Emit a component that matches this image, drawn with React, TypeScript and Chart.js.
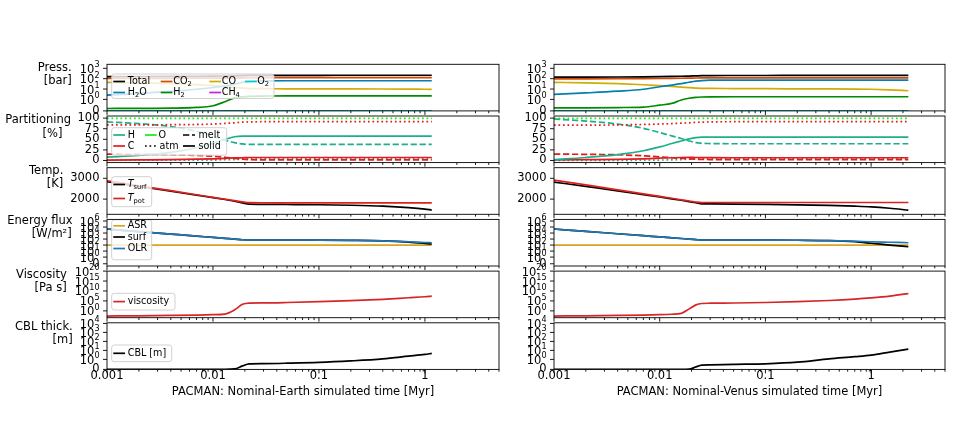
import React, { useEffect, useRef } from "react";
import { Chart, registerables } from "chart.js";

Chart.register(...registerables);

const FONT = "'DejaVu Sans', sans-serif";
const W = 953;
const H = 424;

// ---------------- time axis [Myr] ----------------
const timeEarth = [0.001, 0.002, 0.004, 0.007, 0.01, 0.013, 0.016, 0.019, 0.022, 0.03, 0.05, 0.1, 0.2, 0.4, 0.7, 1.0, 1.16];
const timeVenus = [0.001, 0.002, 0.004, 0.007, 0.01, 0.013, 0.016, 0.019, 0.022, 0.025, 0.03, 0.05, 0.1, 0.2, 0.4, 0.7, 1.0, 1.5, 2.25];
const timeTicks = [0.001, 0.002, 0.003, 0.004, 0.005, 0.006, 0.007, 0.008, 0.009, 0.01, 0.02, 0.03, 0.04, 0.05, 0.06, 0.07, 0.08, 0.09, 0.1, 0.2, 0.3, 0.4, 0.5, 0.6, 0.7, 0.8, 0.9, 1, 2, 3, 4, 5];
const timeMajorTicks = [0.001, 0.01, 0.1, 1];
const timeMajorLabels = ["0.001", "0.01", "0.1", "1"];
const timeMin = 0.001;
const timeMax = 5;
const titleEarth = "PACMAN: Nominal-Earth simulated time [Myr]";
const titleVenus = "PACMAN: Nominal-Venus simulated time [Myr]";

// ---------------- Earth: partial pressures [bar] ----------------
const earthPTotal = [160, 162, 165, 170, 175, 182, 190, 198, 205, 210, 212, 213, 214, 214, 215, 215, 215];
const earthPCO2 = [105, 106, 108, 110, 112, 115, 118, 121, 123, 124, 124, 125, 125, 125, 125, 125, 125];
const earthPH2O = [2.6, 3.8, 6, 9.5, 14, 20, 30, 45, 56, 62, 63, 63, 63, 63, 63, 63, 63];
const earthPCO = [44, 40, 33, 27, 22, 18, 14.5, 12, 11, 10.8, 10.6, 10.5, 10.3, 10.1, 9.8, 9.5, 9.4];
const earthPH2 = [0.21, 0.22, 0.24, 0.3, 0.45, 0.8, 1.4, 1.8, 2.0, 2.1, 2.2, 2.2, 2.2, 2.2, 2.2, 2.2, 2.2];
const earthPO2 = [0, 0, 0, 0, 0, 0, 0, 0, 0, 0, 0, 0, 0, 0, 0, 0, 0];
const earthPCH4 = [0, 0, 0, 0, 0, 0, 0, 0, 0, 0, 0, 0, 0, 0, 0, 0, 0];

// ---------------- Venus: partial pressures [bar] ----------------
const venusPTotal = [140, 142, 146, 152, 158, 165, 172, 180, 188, 195, 200, 203, 204, 205, 205, 205, 205, 205, 205];
const venusPCO2 = [95, 96, 98, 101, 104, 107, 110, 113, 116, 118, 119, 120, 120, 120, 120, 120, 120, 120, 120];
const venusPH2O = [3.0, 4.2, 6.2, 9.5, 16.6, 24, 33, 45, 57, 66, 72, 74, 74, 74, 74, 74, 74, 74, 74];
const venusPCO = [44, 40, 33, 26, 21, 18, 15.5, 13.5, 12.3, 11.8, 11.5, 11.2, 10.8, 10.5, 10.3, 10.0, 9.5, 8.3, 6.8];
const venusPH2 = [0.26, 0.27, 0.29, 0.33, 0.5, 0.65, 0.95, 1.3, 1.55, 1.7, 1.77, 1.8, 1.8, 1.8, 1.8, 1.8, 1.8, 1.8, 1.8];
const venusPO2 = [0, 0, 0, 0, 0, 0, 0, 0, 0, 0, 0, 0, 0, 0, 0, 0, 0, 0, 0];
const venusPCH4 = [0, 0, 0, 0, 0, 0, 0, 0, 0, 0, 0, 0, 0, 0, 0, 0, 0, 0, 0];

// ---------------- Earth: element partitioning [%] ----------------
const earthHMelt = [91, 87, 80, 69, 58, 48, 42, 39, 38, 38, 38, 38, 38, 38, 38, 38, 38];
const earthHSolid = [8, 12, 19, 30, 41, 50, 56, 57.5, 57.5, 57.5, 57.5, 57.5, 57.5, 57.5, 57.5, 57.5, 57.5];
const earthHAtm = [1, 1, 1, 1, 1, 2, 2, 3.5, 4.5, 4.5, 4.5, 4.5, 4.5, 4.5, 4.5, 4.5, 4.5];
const earthCAtm = [84, 84, 84.5, 85, 86, 87.5, 89, 90.5, 91, 91.5, 91.5, 91.5, 91.5, 91.5, 91.5, 91.5, 91.5];
const earthCMelt = [15, 14.5, 13.5, 12, 10, 7.5, 5, 3, 2, 1.5, 1.5, 1.5, 1.5, 1.5, 1.5, 1.5, 1.5];
const earthCSolid = [1, 1.5, 2, 3, 4, 5, 6, 6.5, 7, 7, 7, 7, 7, 7, 7, 7, 7];
const earthOAtm = [99.5, 99.5, 99.5, 99.5, 99.5, 99.5, 99.5, 99.5, 99.5, 99.5, 99.5, 99.5, 99.5, 99.5, 99.5, 99.5, 99.5];

// ---------------- Venus: element partitioning [%] ----------------
const venusHMelt = [98, 93, 86, 76, 66, 58, 52, 46, 42, 40.5, 40, 39.5, 39.5, 39.5, 39.5, 39.5, 39.5, 39.5, 39.5];
const venusHSolid = [2, 7, 14, 23, 32, 40, 46, 51, 54, 55, 55, 55, 55, 55, 55, 55, 55, 55, 55];
const venusHAtm = [0.3, 0.3, 0.4, 0.6, 1, 1.5, 2, 3, 4, 4.5, 5, 5.5, 5.5, 5.5, 5.5, 5.5, 5.5, 5.5, 5.5];
const venusCAtm = [83.5, 83.5, 84, 85, 86, 87, 88, 89, 90, 90.5, 91, 91.5, 91.5, 91.5, 91.5, 91.5, 91.5, 91.5, 91.5];
const venusCMelt = [15, 14.5, 13.5, 11, 8.6, 6.5, 5, 3.8, 3, 2.5, 2.2, 2, 2, 2, 2, 2, 2, 2, 2];
const venusCSolid = [1.5, 2, 2.5, 4, 5.4, 6.5, 7, 7.2, 7, 7, 6.8, 6.5, 6.5, 6.5, 6.5, 6.5, 6.5, 6.5, 6.5];
const venusOAtm = [99.5, 99.5, 99.5, 99.5, 99.5, 99.5, 99.5, 99.5, 99.5, 99.5, 99.5, 99.5, 99.5, 99.5, 99.5, 99.5, 99.5, 99.5, 99.5];

// ---------------- temperatures [K] ----------------
const earthTPot = [2884, 2644, 2405, 2211, 2087, 1997, 1926, 1866, 1830, 1825, 1823, 1822, 1821, 1821, 1821, 1821, 1821];
const earthTSurf = [2840, 2610, 2380, 2190, 2070, 1980, 1900, 1820, 1755, 1748, 1742, 1730, 1705, 1660, 1590, 1520, 1475];
const venusTPot = [2918, 2681, 2444, 2252, 2130, 2040, 1969, 1910, 1860, 1836, 1838, 1838, 1838, 1838, 1838, 1838, 1838, 1838, 1838];
const venusTSurf = [2821, 2610, 2400, 2220, 2105, 2015, 1945, 1880, 1825, 1775, 1768, 1760, 1745, 1725, 1695, 1660, 1628, 1560, 1468];

// ---------------- energy fluxes [W/m2] ----------------
const earthASR = [100, 100, 100, 100, 100, 100, 100, 100, 100, 100, 100, 100, 100, 100, 100, 100, 100];
const earthOLR = [46800, 17800, 6760, 3090, 1860, 1290, 977, 759, 692, 692, 692, 676, 603, 501, 355, 270, 245];
const earthFSurf = [46800, 17800, 6760, 3090, 1860, 1290, 977, 759, 692, 692, 692, 676, 600, 480, 310, 190, 150];
const venusASR = [100, 100, 100, 100, 100, 100, 100, 100, 100, 100, 100, 100, 100, 100, 100, 100, 100, 100, 100];
const venusOLR = [46800, 19100, 7590, 3630, 2290, 1620, 1230, 977, 813, 692, 692, 692, 676, 631, 550, 437, 355, 295, 245];
const venusFSurf = [46800, 19100, 7590, 3630, 2290, 1620, 1230, 977, 813, 692, 692, 692, 676, 631, 540, 355, 200, 100, 52];

// ---------------- viscosity [Pa s] ----------------
const earthVisc = [0.0025, 0.0032, 0.005, 0.008, 0.0126, 0.025, 3.2, 2000, 7900, 10000, 16000, 40000, 126000, 630000, 4000000, 12600000, 25000000];
const venusVisc = [0.0025, 0.0032, 0.005, 0.008, 0.0126, 0.02, 0.05, 10, 1000, 5000, 7000, 8900, 16000, 40000, 160000, 800000, 3200000, 25000000, 500000000];

// ---------------- conductive boundary layer [m] ----------------
const earthCBL = [0, 0, 0, 0, 0, 0, 0.05, 0.35, 0.55, 0.58, 0.62, 0.7, 0.85, 1.15, 2.3, 3.6, 4.7];
const venusCBL = [0, 0, 0, 0, 0, 0, 0, 0.02, 0.25, 0.42, 0.45, 0.5, 0.56, 0.72, 1.15, 2.0, 3.0, 6.5, 14];

// ---------------- y ticks ----------------
const pressTicks = [0, 1, 10, 100, 1000];
const pressTickLabels = ["0", "10⁰", "10¹", "10²", "10³"];
const partTicks = [0, 25, 50, 75, 100];
const partTickLabels = ["0", "25", "50", "75", "100"];
const tempTicks = [2000, 3000];
const tempTickLabels = ["2000", "3000"];
const fluxTicks = [0, 1, 10, 100, 1000, 10000, 100000, 1000000];
const fluxTickLabels = ["0", "10⁰", "10¹", "10²", "10³", "10⁴", "10⁵", "10⁶"];
const viscTicks = [1, 1e5, 1e10, 1e15, 1e20];
const viscTickLabels = ["10⁰", "10⁵", "10¹⁰", "10¹⁵", "10²⁰"];
const cblTicks = [0, 1, 10, 100, 1000, 10000];
const cblTickLabels = ["0", "10⁰", "10¹", "10²", "10³", "10⁴"];

// ---------------- colours ----------------
const C_TOTAL = "#000000";
const C_CO2 = "#D24901";
const C_CO = "#D1AC02";
const C_O2 = "#00CCCC";
const C_H2O = "#027FB1";
const C_H2 = "#008C01";
const C_CH4 = "#C720DD";
const C_H = "#1fae8a";
const C_O = "#11ee11";
const C_C = "#e41a1c";
const C_TPOT = "#e0201e";
const C_ASR = "#d8a521";
const C_OLR = "#1f77b4";
const C_VISC = "#d62728";

const DASHED = [6.3, 2.7];
const DOTTED = [1.7, 2.8];

// symmetric-log transform (linthresh 1, linscale 1)
const symlog = (v: number) => {
  const a = Math.abs(v);
  const c = 1 / 0.9;
  return Math.sign(v) * (a <= 1 ? a * c : c + Math.log10(a));
};
const log10t = (v: number) => Math.log10(v);
const ident = (v: number) => v;

type Seg = { t: string; sub?: boolean; it?: boolean };
type Series = { xs: number[]; ys: number[]; color: string; dash?: number[] };
type LegendItem = { segs: Seg[]; color: string; dash?: number[]; hx: number; hw: number; tx: number; y: number };
type Legend = { x: number; y: number; w: number; h: number; items: LegendItem[] };
type YLabel = { text: string; rx: number; cy: number };
type Panel = {
  l: number; t: number; r: number; b: number;
  tf: (v: number) => number;
  yMin: number; yMax: number;
  yTicks: number[]; yLabels: string[];
  series: Series[];
  legend?: Legend;
  ylabel?: YLabel[];
  xTitle?: string;
};

const colL = [107, 554];
const colR = [499, 945];
const rowT = [64.3, 116.0, 167.7, 219.4, 271.1, 322.8];
const rowH = 46.6;

const seg = (t: string): Seg[] => [{ t }];

function buildPanels(col: number): Panel[] {
  const E = col === 0;
  const xs = E ? timeEarth : timeVenus;
  const L = colL[col], R = colR[col];
  const rect = (i: number) => ({ l: L, r: R, t: rowT[i], b: rowT[i] + rowH });
  const out: Panel[] = [];

  out.push({
    ...rect(0), tf: symlog, yMin: 0, yMax: 4.5, yTicks: pressTicks, yLabels: pressTickLabels,
    series: [
      { xs, ys: E ? earthPTotal : venusPTotal, color: C_TOTAL },
      { xs, ys: E ? earthPCO2 : venusPCO2, color: C_CO2 },
      { xs, ys: E ? earthPH2O : venusPH2O, color: C_H2O },
      { xs, ys: E ? earthPCO : venusPCO, color: C_CO },
      { xs, ys: E ? earthPH2 : venusPH2, color: C_H2 },
      { xs, ys: E ? earthPO2 : venusPO2, color: C_O2 },
      { xs, ys: E ? earthPCH4 : venusPCH4, color: C_CH4 },
    ],
    legend: E ? {
      x: 111.7, y: 74, w: 162.3, h: 24.5,
      items: [
        { segs: seg("Total"), color: C_TOTAL, hx: 113.3, hw: 11.7, tx: 127.7, y: 81.5 },
        { segs: [{ t: "CO" }, { t: "2", sub: true }], color: C_CO2, hx: 160.7, hw: 11.7, tx: 173.3, y: 81.5 },
        { segs: seg("CO"), color: C_CO, hx: 209.3, hw: 11.7, tx: 221.7, y: 81.5 },
        { segs: [{ t: "O" }, { t: "2", sub: true }], color: C_O2, hx: 245, hw: 11.7, tx: 257.3, y: 81.5 },
        { segs: [{ t: "H" }, { t: "2", sub: true }, { t: "O" }], color: C_H2O, hx: 113.3, hw: 11.7, tx: 127.7, y: 92.5 },
        { segs: [{ t: "H" }, { t: "2", sub: true }], color: C_H2, hx: 160.7, hw: 11.7, tx: 173.3, y: 92.5 },
        { segs: [{ t: "CH" }, { t: "4", sub: true }], color: C_CH4, hx: 209.3, hw: 11.7, tx: 221.7, y: 92.5 },
      ],
    } : undefined,
    ylabel: E ? [{ text: "Press.", rx: 71.7, cy: 68.5 }, { text: "[bar]", rx: 71.7, cy: 81 }] : undefined,
  });

  out.push({
    ...rect(1), tf: ident, yMin: -5, yMax: 105, yTicks: partTicks, yLabels: partTickLabels,
    series: [
      { xs, ys: E ? earthOAtm : venusOAtm, color: C_O, dash: DOTTED },
      { xs, ys: E ? earthCAtm : venusCAtm, color: C_C, dash: DOTTED },
      { xs, ys: E ? earthHMelt : venusHMelt, color: C_H, dash: DASHED },
      { xs, ys: E ? earthHSolid : venusHSolid, color: C_H },
      { xs, ys: E ? earthCMelt : venusCMelt, color: C_C, dash: DASHED },
      { xs, ys: E ? earthCSolid : venusCSolid, color: C_C },
      { xs, ys: E ? earthHAtm : venusHAtm, color: C_H, dash: DOTTED },
    ],
    legend: E ? {
      x: 111.7, y: 127.7, w: 115, h: 27.5,
      items: [
        { segs: seg("H"), color: C_H, hx: 113.3, hw: 11.7, tx: 127.7, y: 135 },
        { segs: seg("C"), color: C_C, hx: 113.3, hw: 11.7, tx: 127.7, y: 146 },
        { segs: seg("O"), color: C_O, hx: 145, hw: 11.7, tx: 158.5, y: 135 },
        { segs: seg("atm"), color: "#000", dash: DOTTED, hx: 145, hw: 11.7, tx: 159.5, y: 146 },
        { segs: seg("melt"), color: "#000", dash: DASHED, hx: 183, hw: 12, tx: 198.5, y: 135 },
        { segs: seg("solid"), color: "#000", hx: 183, hw: 12, tx: 198.5, y: 146 },
      ],
    } : undefined,
    ylabel: E ? [{ text: "Partitioning", rx: 71, cy: 120 }, { text: "[%]", rx: 62.5, cy: 134 }] : undefined,
  });

  out.push({
    ...rect(2), tf: ident, yMin: 1270, yMax: 3510, yTicks: tempTicks, yLabels: tempTickLabels,
    series: [
      { xs, ys: E ? earthTPot : venusTPot, color: C_TPOT },
      { xs, ys: E ? earthTSurf : venusTSurf, color: "#000" },
    ],
    legend: E ? {
      x: 111.7, y: 176.7, w: 40, h: 30,
      items: [
        { segs: [{ t: "T", it: true }, { t: "surf", sub: true }], color: "#000", hx: 113.3, hw: 11.7, tx: 127.7, y: 184.5 },
        { segs: [{ t: "T", it: true }, { t: "pot", sub: true }], color: C_TPOT, hx: 113.3, hw: 11.7, tx: 127.7, y: 198.5 },
      ],
    } : undefined,
    ylabel: E ? [{ text: "Temp.", rx: 63.3, cy: 171.5 }, { text: "[K]", rx: 63.3, cy: 184 }] : undefined,
  });

  out.push({
    ...rect(3), tf: symlog, yMin: -0.37, yMax: 7.38, yTicks: fluxTicks, yLabels: fluxTickLabels,
    series: [
      { xs, ys: E ? earthOLR : venusOLR, color: C_OLR },
      { xs, ys: E ? earthFSurf : venusFSurf, color: "#000" },
      { xs, ys: E ? earthASR : venusASR, color: C_ASR },
    ],
    legend: E ? {
      x: 111.7, y: 219.8, w: 40, h: 40,
      items: [
        { segs: seg("ASR"), color: C_ASR, hx: 113.3, hw: 11.7, tx: 127.7, y: 225.8 },
        { segs: seg("surf"), color: "#000", hx: 113.3, hw: 11.7, tx: 127.7, y: 237 },
        { segs: seg("OLR"), color: C_OLR, hx: 113.3, hw: 11.7, tx: 127.7, y: 248.5 },
      ],
    } : undefined,
    ylabel: E ? [{ text: "Energy flux", rx: 72.5, cy: 221.5 }, { text: "[W/m²]", rx: 71.7, cy: 234 }] : undefined,
  });

  out.push({
    ...rect(4), tf: log10t, yMin: -3.44, yMax: 20, yTicks: viscTicks, yLabels: viscTickLabels,
    series: [{ xs, ys: E ? earthVisc : venusVisc, color: C_VISC }],
    legend: E ? {
      x: 111.7, y: 293.3, w: 63.3, h: 16.7,
      items: [{ segs: seg("viscosity"), color: C_VISC, hx: 113.3, hw: 11.7, tx: 127.7, y: 301.6 }],
    } : undefined,
    ylabel: E ? [{ text: "Viscosity", rx: 66.7, cy: 275.5 }, { text: "[Pa s]", rx: 66.7, cy: 288 }] : undefined,
  });

  out.push({
    ...rect(5), tf: symlog, yMin: 0, yMax: 5.18, yTicks: cblTicks, yLabels: cblTickLabels,
    series: [{ xs, ys: E ? earthCBL : venusCBL, color: "#000" }],
    legend: E ? {
      x: 111.7, y: 345, w: 60, h: 16.7,
      items: [{ segs: seg("CBL [m]"), color: "#000", hx: 113.3, hw: 11.7, tx: 127.7, y: 353.3 }],
    } : undefined,
    ylabel: E ? [{ text: "CBL thick.", rx: 72.7, cy: 327.5 }, { text: "[m]", rx: 72.7, cy: 340 }] : undefined,
    xTitle: E ? titleEarth : titleVenus,
  });
  return out;
}

const allPanels: Panel[] = [...buildPanels(0), ...buildPanels(1)];

const SUPCHARS = "⁰¹²³⁴⁵⁶⁷⁸⁹";

function drawRich(ctx: CanvasRenderingContext2D, x: number, y: number, segs: Seg[], size: number) {
  let cx = x;
  ctx.textAlign = "left";
  ctx.textBaseline = "middle";
  for (const s of segs) {
    const fs = s.sub ? size * 0.7 : size;
    ctx.font = `${s.it ? "italic " : ""}${fs}px ${FONT}`;
    ctx.fillText(s.t, cx, s.sub ? y + size * 0.28 : y);
    cx += ctx.measureText(s.t).width;
  }
}

// draws a tick label right-aligned at rx; "10ⁿ" labels get a real raised exponent
function drawTickLabel(ctx: CanvasRenderingContext2D, label: string, rx: number, cy: number) {
  const size = 11.5;
  ctx.textBaseline = "middle";
  ctx.textAlign = "left";
  let base = label;
  let exp = "";
  if (label.startsWith("10") && label.length > 2 && SUPCHARS.indexOf(label[2]) >= 0) {
    base = "10";
    exp = label
      .slice(2)
      .split("")
      .map((ch) => String(SUPCHARS.indexOf(ch)))
      .join("");
  }
  ctx.font = `${size}px ${FONT}`;
  const bw = ctx.measureText(base).width;
  const es = size * 0.7;
  ctx.font = `${es}px ${FONT}`;
  const ew = exp ? ctx.measureText(exp).width : 0;
  const x0 = rx - bw - ew;
  const by = exp ? cy + 1.5 : cy;
  ctx.font = `${size}px ${FONT}`;
  ctx.fillText(base, x0, by);
  if (exp) {
    ctx.font = `${es}px ${FONT}`;
    ctx.fillText(exp, x0 + bw, by - 4.6);
  }
}

function roundRectPath(ctx: CanvasRenderingContext2D, x: number, y: number, w: number, h: number, r: number) {
  ctx.beginPath();
  ctx.moveTo(x + r, y);
  ctx.lineTo(x + w - r, y);
  ctx.arcTo(x + w, y, x + w, y + r, r);
  ctx.lineTo(x + w, y + h - r);
  ctx.arcTo(x + w, y + h, x + w - r, y + h, r);
  ctx.lineTo(x + r, y + h);
  ctx.arcTo(x, y + h, x, y + h - r, r);
  ctx.lineTo(x, y + r);
  ctx.arcTo(x, y, x + r, y, r);
  ctx.closePath();
}

function drawLegend(ctx: CanvasRenderingContext2D, lg: Legend) {
  ctx.save();
  roundRectPath(ctx, lg.x, lg.y, lg.w, lg.h, 2.5);
  ctx.fillStyle = "rgba(255,255,255,0.8)";
  ctx.fill();
  ctx.strokeStyle = "#cccccc";
  ctx.lineWidth = 0.9;
  ctx.stroke();
  for (const it of lg.items) {
    ctx.beginPath();
    ctx.setLineDash(it.dash || []);
    ctx.strokeStyle = it.color;
    ctx.lineWidth = 1.7;
    ctx.moveTo(it.hx, it.y);
    ctx.lineTo(it.hx + it.hw, it.y);
    ctx.stroke();
    ctx.setLineDash([]);
    ctx.fillStyle = "#000";
    drawRich(ctx, it.tx, it.y, it.segs, 9.6);
  }
  ctx.restore();
}

function makePlugin(p: Panel) {
  return {
    id: "decor",
    afterDatasetsDraw(chart: any) {
      if (p.legend) drawLegend(chart.ctx, p.legend);
    },
    afterDraw(chart: any) {
      const ctx: CanvasRenderingContext2D = chart.ctx;
      const ca = chart.chartArea;
      const xs = chart.scales.x;
      const ys = chart.scales.y;
      ctx.save();
      ctx.setLineDash([]);
      ctx.strokeStyle = "#000";
      ctx.lineWidth = 0.9;
      ctx.strokeRect(ca.left, ca.top, ca.right - ca.left, ca.bottom - ca.top);
      ctx.beginPath();
      for (const v of timeTicks) {
        const px = xs.getPixelForValue(v);
        if (px < ca.left - 0.5 || px > ca.right + 0.5) continue;
        const major = timeMajorTicks.indexOf(v) >= 0;
        ctx.moveTo(px, ca.bottom);
        ctx.lineTo(px, ca.bottom + (major ? 4 : 2.3));
      }
      for (const v of p.yTicks) {
        const py = ys.getPixelForValue(p.tf(v));
        ctx.moveTo(ca.left - 4, py);
        ctx.lineTo(ca.left, py);
      }
      ctx.stroke();
      ctx.fillStyle = "#000";
      p.yTicks.forEach((v, i) => {
        const py = ys.getPixelForValue(p.tf(v));
        drawTickLabel(ctx, p.yLabels[i], ca.left - 7.5, py);
      });
      if (p.ylabel) {
        ctx.font = `11.5px ${FONT}`;
        ctx.textAlign = "right";
        ctx.textBaseline = "middle";
        for (const yl of p.ylabel) ctx.fillText(yl.text, yl.rx, yl.cy);
      }
      ctx.restore();
    },
  };
}

function makeConfig(p: Panel): any {
  const YW = 100;
  const XH = p.xTitle ? 30 : 0;
  const datasets = p.series.map((s) => ({
    data: s.xs.map((x, i) => ({ x, y: p.tf(s.ys[i]) })),
    borderColor: s.color,
    backgroundColor: s.color,
    borderWidth: 1.7,
    borderDash: s.dash || [],
    pointRadius: 0,
    pointHoverRadius: 0,
    fill: false,
    cubicInterpolationMode: "monotone",
  }));
  const tickFont = { family: FONT, size: 11.5 };
  return {
    type: "line",
    data: { datasets },
    options: {
      animation: false,
      responsive: false,
      maintainAspectRatio: false,
      devicePixelRatio: 1,
      events: [],
      layout: { padding: { left: p.l - YW, right: W - p.r, top: p.t, bottom: H - p.b - XH } },
      plugins: { legend: { display: false }, tooltip: { enabled: false }, title: { display: false } },
      scales: {
        x: {
          type: "logarithmic",
          position: "bottom",
          min: timeMin,
          max: timeMax,
          bounds: "data",
          afterBuildTicks: (s: any) => { s.ticks = timeTicks.map((v) => ({ value: v, major: timeMajorTicks.indexOf(v) >= 0 })); },
          afterFit: (s: any) => { s.height = XH; },
          grid: { display: false, drawTicks: false },
          border: { display: false },
          ticks: {
            display: !!p.xTitle,
            autoSkip: false,
            maxRotation: 0,
            minRotation: 0,
            padding: 0,
            color: "#000",
            font: tickFont,
            callback: (_v: any, i: number) => {
              const k = timeMajorTicks.indexOf(timeTicks[i]);
              return k >= 0 ? timeMajorLabels[k] : "";
            },
          },
          title: {
            display: !!p.xTitle,
            text: p.xTitle || "",
            color: "#000",
            font: tickFont,
            padding: { top: 0, bottom: 0 },
          },
        },
        y: {
          type: "linear",
          position: "left",
          min: p.yMin,
          max: p.yMax,
          bounds: "data",
          afterBuildTicks: (s: any) => { s.ticks = p.yTicks.map((v) => ({ value: p.tf(v) })); },
          afterFit: (s: any) => { s.width = YW; },
          grid: { display: false, drawTicks: false },
          border: { display: false },
          ticks: { display: false },
        },
      },
    },
    plugins: [makePlugin(p)],
  };
}

function PanelCanvas({ p }: { p: Panel }) {
  const ref = useRef<HTMLCanvasElement>(null);
  useEffect(() => {
    if (!ref.current) return;
    const chart = new Chart(ref.current, makeConfig(p));
    return () => chart.destroy();
  }, [p]);
  return (
    <canvas
      ref={ref}
      width={W}
      height={H}
      style={{ position: "absolute", left: 0, top: 0, width: W, height: H }}
    />
  );
}

export default function App() {
  Chart.defaults.font.family = FONT;
  Chart.defaults.color = "#000";
  return (
    <div style={{ position: "absolute", left: 0, top: 0, width: W, height: H, background: "#fff", overflow: "hidden" }}>
      {allPanels.map((p, i) => (
        <PanelCanvas key={i} p={p} />
      ))}
    </div>
  );
}
